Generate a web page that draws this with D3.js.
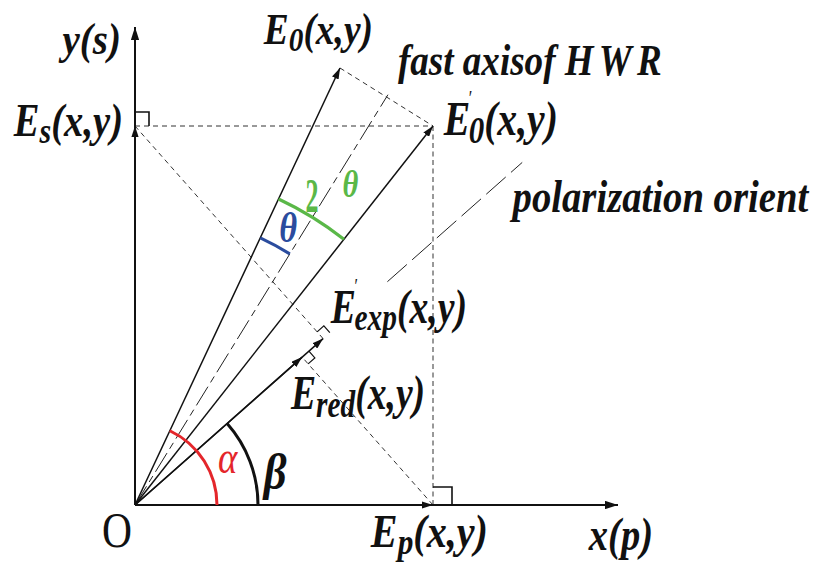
<!DOCTYPE html>
<html>
<head>
<meta charset="utf-8">
<script src="https://cdn.jsdelivr.net/npm/d3@7"></script>
<style>
  html, body { margin: 0; padding: 0; background: #fff; }
  svg { display: block; }
</style>
</head>
<body>
<svg id="fig" width="816" height="573"></svg>
<script>
// ---- Construction data (diagram units) ----
const axisExtent = [4.83, 4.78];          // x(p) and y(s) axis lengths
const inputField = [2.05, 4.37];          // E0(x,y)
const outputField = [2.98, 3.79];         // E0'(x,y) after the half-wave retarder
const polarizerAngle = 41.5;              // beta, degrees from the p axis
const polarizerSpan = [3.37, 5.17];       // drawn part of the polarization direction
const fastAxisLength = 4.82;
const arcRadius = { alpha: 0.82, beta: 1.23, theta: 2.95, twoTheta: 3.38 };

// ---- Label texts ----
const axisNames = ["y(s)", "x(p)", "O"];
const fieldNames = {
  E0:   [["E"], ["0", "sub"], ["(x,y)"]],
  Es:   [["E"], ["s", "sub"], ["(x,y)"]],
  E0p:  [["E"], ["\u2032", "prime"], ["0", "sub"], ["(x,y)"]],
  Eexp: [["E"], ["\u2032", "prime"], ["exp", "sub"], ["(x,y)"]],
  Ered: [["E"], ["red", "sub"], ["(x,y)"]],
  Ep:   [["E"], ["p", "sub"], ["(x,y)"]]
};
const noteNames = { fast: [["fast axisof "], ["HWR", "spaced"]], polar: [["polarization orient"]] };
const angleNames = { alpha: "\u03B1", beta: "\u03B2", two: "2", theta: "\u03B8" };

const RED = "#e4262b", GREEN = "#5ab848", BLUE = "#2b4c9e", INK = "#111";
const SERIF = "'Liberation Serif', 'Times New Roman', serif";

const svg = d3.select("#fig");
const x = d3.scaleLinear().domain([0, 1]).range([135, 235]);
const y = d3.scaleLinear().domain([0, 1]).range([505, 405]);
const P = v => [x(v[0]), y(v[1])];
const deg = Math.PI / 180;

// derived geometry
const angIn = Math.atan2(inputField[1], inputField[0]);
const angOut = Math.atan2(outputField[1], outputField[0]);
const angFast = (angIn + angOut) / 2;
const angPol = polarizerAngle * deg;
const uPol = [Math.cos(angPol), Math.sin(angPol)];
const Es = [0, outputField[1]];
const Ep = [outputField[0], 0];
const proj = v => { const k = v[0] * uPol[0] + v[1] * uPol[1]; return [k * uPol[0], k * uPol[1]]; };
const Eexp = proj(Es);
const Ered = proj(Ep);
const fastEnd = [fastAxisLength * Math.cos(angFast), fastAxisLength * Math.sin(angFast)];
const polStart = [polarizerSpan[0] * uPol[0], polarizerSpan[0] * uPol[1]];
const polEnd = [polarizerSpan[1] * uPol[0], polarizerSpan[1] * uPol[1]];
const O = [0, 0];

// arrowheads
const defs = svg.append("defs");
function marker(id, len, half) {
  defs.append("marker").attr("id", id)
    .attr("viewBox", `0 ${-half} ${len} ${2 * half}`)
    .attr("refX", len).attr("refY", 0)
    .attr("markerWidth", len).attr("markerHeight", 2 * half)
    .attr("markerUnits", "userSpaceOnUse").attr("orient", "auto")
    .append("path").attr("d", `M0,${-half}L${len},0L0,${half}Z`).attr("fill", INK);
}
marker("head", 11, 3.6);
marker("axisHead", 13, 4.2);

const g = svg.append("g");
function seg(a, b, opt) {
  const l = g.append("line")
    .attr("x1", P(a)[0]).attr("y1", P(a)[1]).attr("x2", P(b)[0]).attr("y2", P(b)[1])
    .attr("stroke", opt.color || INK).attr("stroke-width", opt.width || 1.3)
    .attr("fill", "none");
  if (opt.dash) l.attr("stroke-dasharray", opt.dash);
  if (opt.head) l.attr("marker-end", `url(#${opt.head})`);
  return l;
}

// dashed construction lines
const thin = { width: 1, color: "#333", dash: "5,4" };
seg(Es, outputField, thin);
seg(inputField, outputField, thin);
seg(outputField, Ep, { width: 1, color: "#333", dash: "5,3.5" });
seg(Es, Eexp, thin);
seg(Ep, Ered, thin);
seg(O, fastEnd, { width: 1, color: "#222", dash: "22,5,7,5" });
seg(polStart, polEnd, { width: 1, color: "#222", dash: "26,7" });

// axes
seg(O, [axisExtent[0], 0], { width: 2, head: "axisHead" });
seg(O, [0, axisExtent[1]], { width: 2, head: "axisHead" });

// field vectors
seg(O, inputField, { width: 1.5, head: "head" });
seg(O, outputField, { width: 1.5, head: "head" });
seg(O, Eexp, { width: 1.5, head: "head" });
seg(O, Ered, { width: 1.5, head: "head" });
seg(O, Ep, { width: 0, head: "head" }).attr("stroke", "none");
seg(O, Es, { width: 0, head: "head" }).attr("stroke", "none");

// right-angle marks
function rightAngle(at, u, v, su, sv, w) {
  const p = P(at);
  const a = [p[0] + su * u[0], p[1] + su * u[1]];
  const c = [p[0] + sv * v[0], p[1] + sv * v[1]];
  const b = [a[0] + sv * v[0], a[1] + sv * v[1]];
  g.append("path").attr("d", d3.line()([a, b, c]))
    .attr("fill", "none").attr("stroke", INK).attr("stroke-width", w);
}
const fwd = [uPol[0], -uPol[1]];
rightAngle(Es, [0, -1], [1, 0], 14, 14, 1.6);
rightAngle(Ep, [0, -1], [1, 0], 18, 19, 1.6);
rightAngle(Eexp, fwd, [-uPol[1], -uPol[0]], 9, 9, 1.2);
rightAngle(Ered, fwd, [uPol[1], uPol[0]], 9, 9, 1.2);

// angle arcs
function arc(r, a0, a1, color, w) {
  const p = d3.path();
  const c = P(O), rr = x(r) - x(0);
  p.moveTo(c[0] + rr * Math.cos(a0), c[1] - rr * Math.sin(a0));
  p.arc(c[0], c[1], rr, -a0, -a1, true);
  g.append("path").attr("d", p.toString()).attr("fill", "none")
    .attr("stroke", color).attr("stroke-width", w).attr("stroke-linecap", "butt");
}
arc(arcRadius.alpha, 0, angIn, RED, 3);
arc(arcRadius.beta, 0, angPol, INK, 3);
arc(arcRadius.twoTheta, angOut, angIn, GREEN, 3.2);
arc(arcRadius.theta, angFast, angIn, BLUE, 3);

// ---- labels: each is squeezed horizontally to the given span ----
function label(parts, o) {
  const size = o.size;
  const t = g.append("text")
    .attr("font-family", SERIF).attr("font-size", size)
    .attr("font-weight", o.weight || "bold").attr("font-style", o.style || "italic")
    .attr("fill", o.fill || INK);
  let shift = 0, primeLen = 0;
  parts.forEach(([s, role]) => {
    const ts = t.append("tspan").text(s);
    if (role === "sub") {
      const target = size * 0.16;
      ts.attr("font-size", size * 0.78).attr("dy", target - shift);
      if (primeLen) ts.attr("dx", -primeLen);
      shift = target;
    } else if (role === "prime") {
      const target = -size * 0.62;
      ts.attr("font-size", size * 0.42).attr("font-weight", "normal").attr("font-style", "normal")
        .attr("dy", target - shift).attr("dx", -size * 0.04);
      shift = target;
      primeLen = ts.node().getComputedTextLength();
    } else if (role === "spaced") {
      ts.attr("letter-spacing", size * 0.14);
    } else {
      if (shift) ts.attr("dy", -shift);
      shift = 0;
    }
  });
  const bb = t.node().getBBox();
  const sx = (o.right - o.left) / bb.width;
  t.attr("transform", `translate(${o.left - bb.x * sx},${o.base}) scale(${sx},1)`);
  return t;
}
const s = v => P(v);
const o = s(O), yTip = s([0, axisExtent[1]]), xTip = s([axisExtent[0], 0]);
const pE0 = s(inputField), pE0p = s(outputField), pEs = s(Es), pEp = s(Ep);
const pFast = s(fastEnd), pPol = s(polEnd), pExp = s(Eexp), pRed = s(Ered);

label([[axisNames[0]]], { size: 44, left: yTip[0] - 77, right: yTip[0] - 14, base: yTip[1] + 27 });
label([[axisNames[1]]], { size: 46, left: xTip[0] - 30, right: xTip[0] + 35, base: xTip[1] + 45 });
label([[axisNames[2]]], { size: 50, weight: "normal", style: "normal", left: o[0] - 33, right: o[0] - 3, base: o[1] + 42 });

label(fieldNames.E0, { size: 44, left: pE0[0] - 77, right: pE0[0] + 33, base: pE0[1] - 24 });
label(fieldNames.Es, { size: 46, left: pEs[0] - 122, right: pEs[0] - 12, base: pEs[1] + 10 });
label(fieldNames.E0p, { size: 48, left: pE0p[0] + 10, right: pE0p[0] + 125, base: pE0p[1] + 9 });
label(fieldNames.Eexp, { size: 48, left: pExp[0] + 7, right: pExp[0] + 144, base: pExp[1] - 16 });
label(fieldNames.Ered, { size: 48, left: pRed[0] - 12, right: pRed[0] + 123, base: pRed[1] + 52 });
label(fieldNames.Ep, { size: 46, left: pEp[0] - 63, right: pEp[0] + 55, base: pEp[1] + 42 });

label(noteNames.fast, { size: 44, left: pFast[0] + 10, right: pFast[0] + 279, base: pFast[1] - 20 });
label(noteNames.polar, { size: 46, left: pPol[0] - 13, right: pPol[0] + 287, base: pPol[1] + 50 });

// angle symbols
const aEnd = x(arcRadius.alpha), bEnd = x(arcRadius.beta);
label([[angleNames.alpha]], { size: 46, weight: "normal", fill: RED, left: aEnd + 1, right: aEnd + 21, base: o[1] - 32 });
label([[angleNames.beta]], { size: 50, fill: INK, left: bEnd + 4, right: bEnd + 29, base: o[1] - 16 });
const midTwo = (angIn + angOut) / 2, rTwo = x(arcRadius.twoTheta) - x(0);
const mTwo = [o[0] + rTwo * Math.cos(midTwo), o[1] - rTwo * Math.sin(midTwo)];
label([[angleNames.two]], { size: 48, weight: "bold", style: "normal", fill: GREEN, left: mTwo[0] - 7, right: mTwo[0] + 6, base: mTwo[1] - 5 });
label([[angleNames.theta]], { size: 38, weight: "bold", fill: GREEN, left: mTwo[0] + 30, right: mTwo[0] + 46, base: mTwo[1] - 20 });
const midTh = (angIn + angFast) / 2, rTh = x(arcRadius.theta) - x(0);
const mTh = [o[0] + rTh * Math.cos(midTh), o[1] - rTh * Math.sin(midTh)];
label([[angleNames.theta]], { size: 42, weight: "bold", fill: BLUE, left: mTh[0] + 4, right: mTh[0] + 22, base: mTh[1] - 3 });
</script>
</body>
</html>
